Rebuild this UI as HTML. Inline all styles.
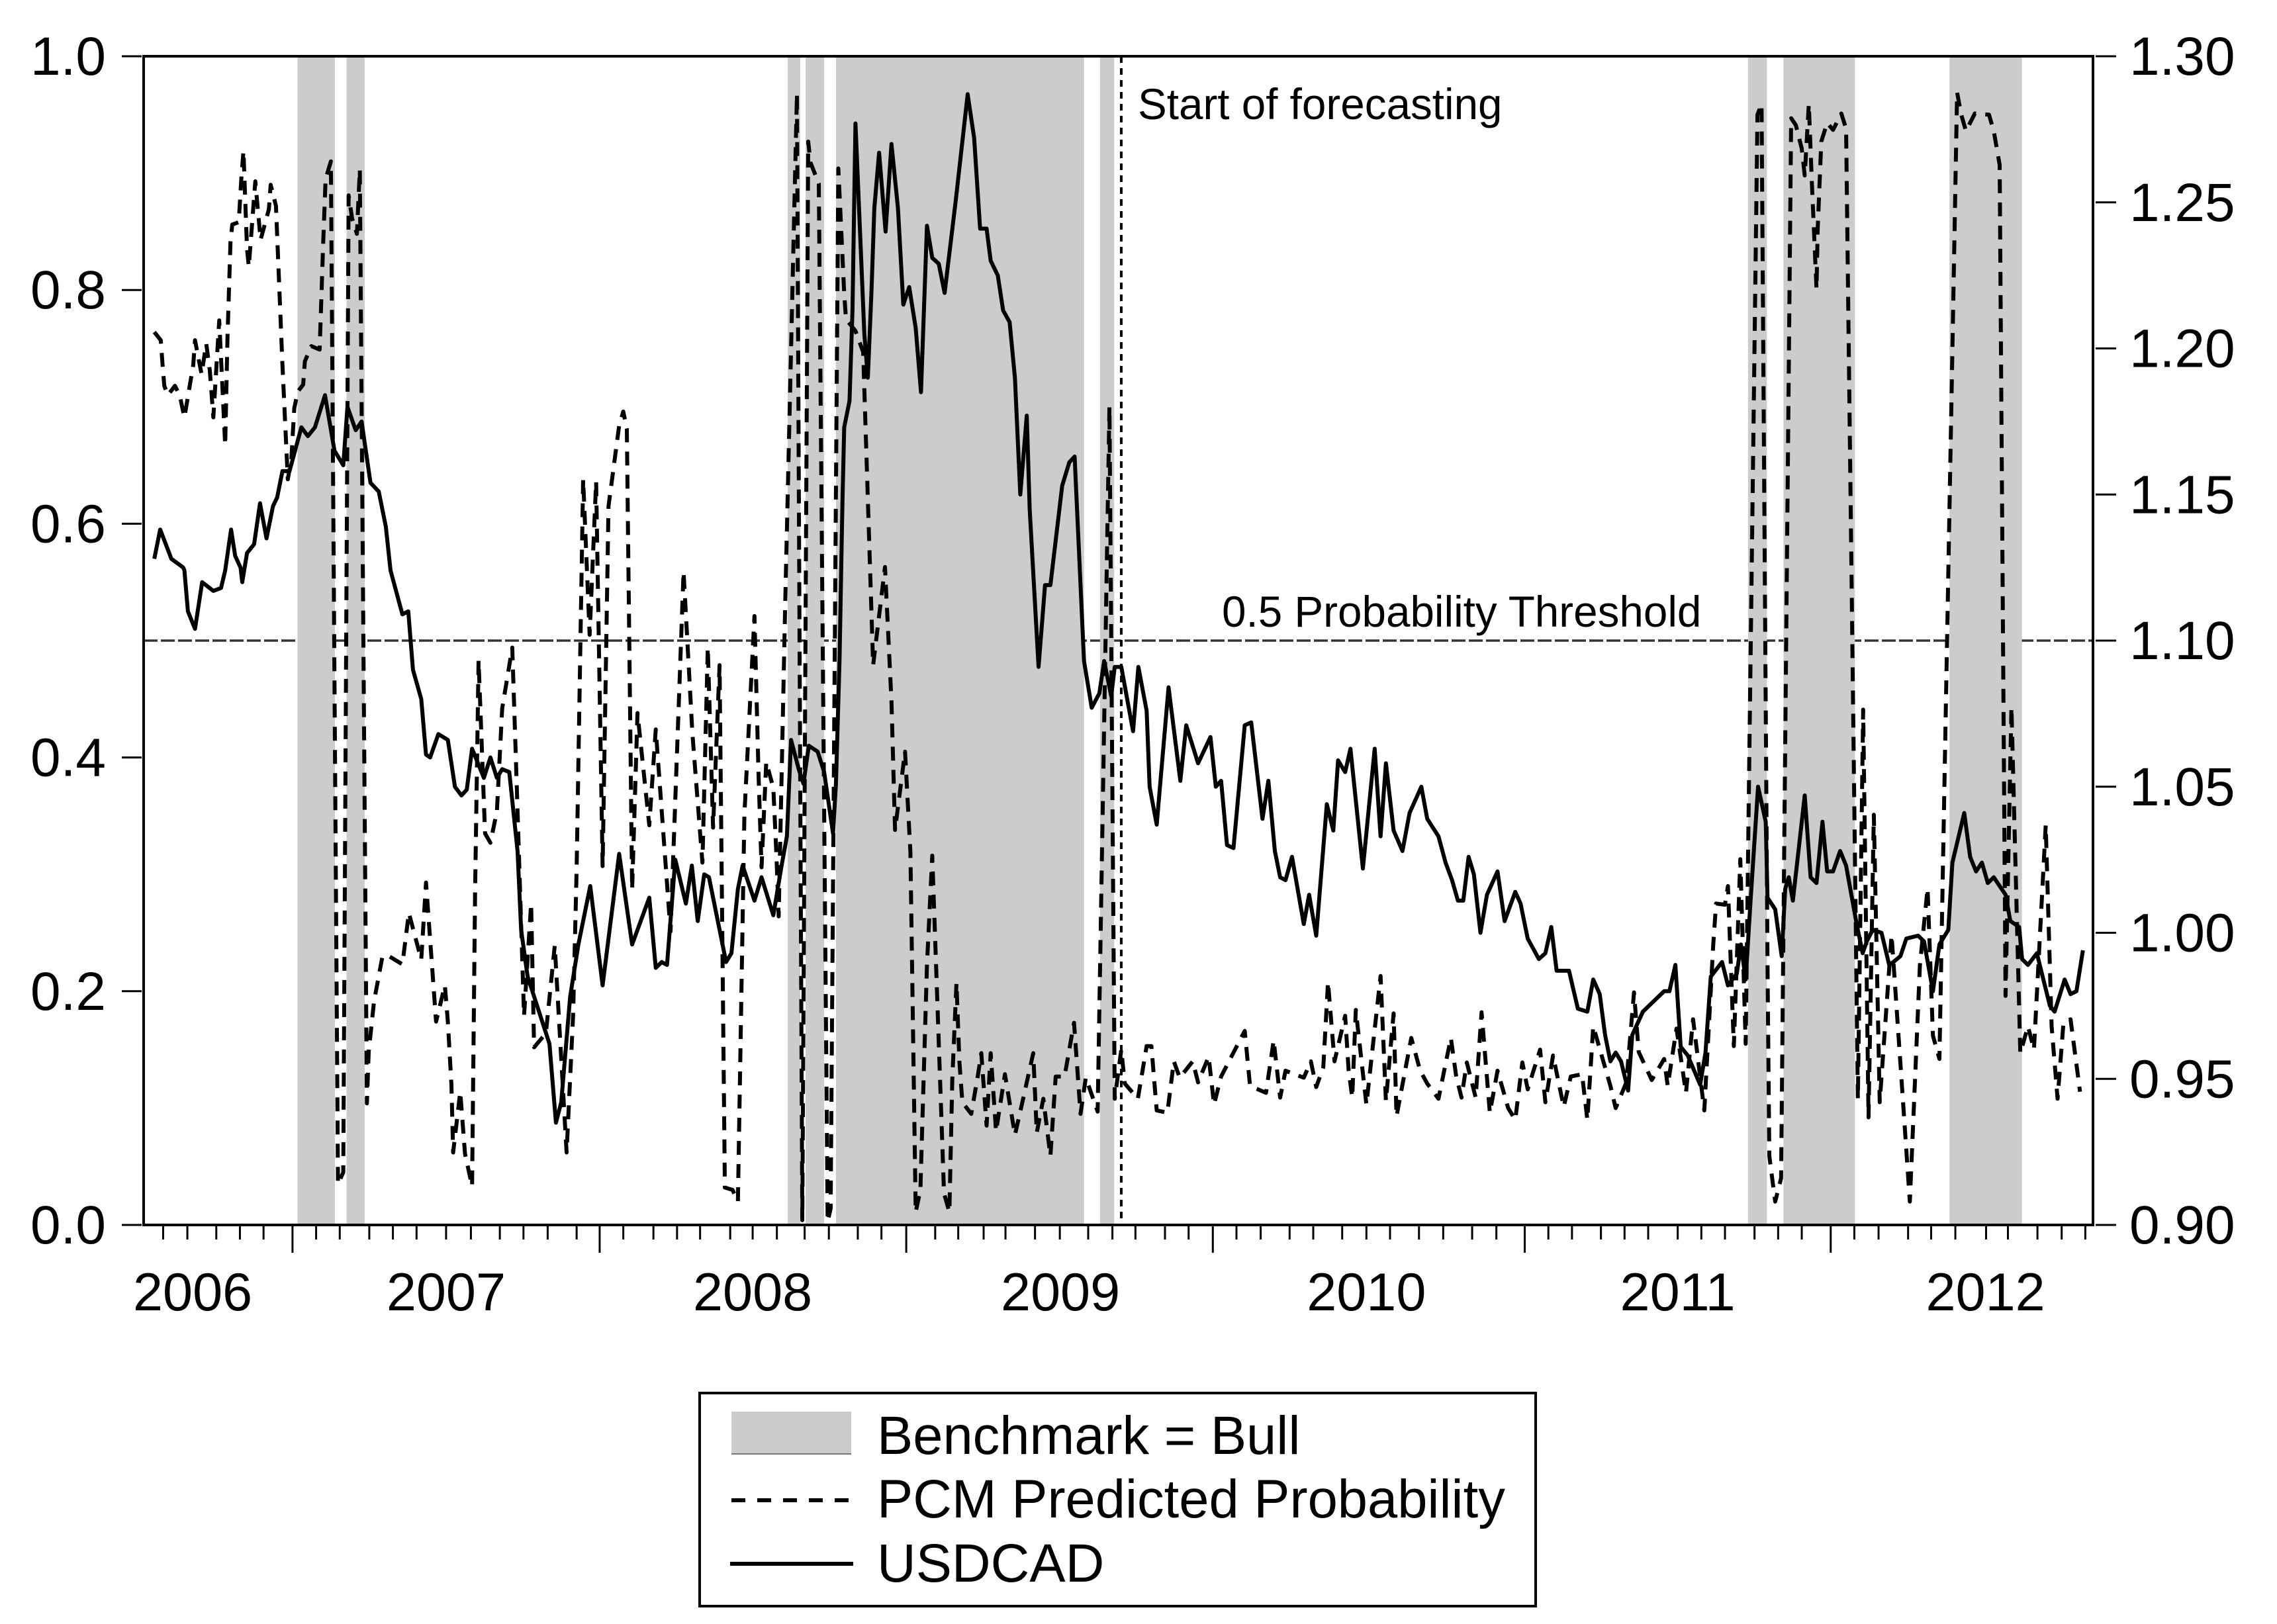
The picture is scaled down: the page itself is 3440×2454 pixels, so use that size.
<!DOCTYPE html>
<html lang="en">
<head>
<meta charset="utf-8">
<title>USDCAD and PCM Predicted Probability</title>
<style>
html,body{margin:0;padding:0;background:#fff;}
svg{display:block;font-family:"Liberation Sans",sans-serif;fill:#000;}
</style>
</head>
<body>
<svg id="chart" xmlns="http://www.w3.org/2000/svg" width="3440" height="2454" viewBox="0 0 3440 2454">
  <rect x="0" y="0" width="3440" height="2454" fill="#fff"/>
  <g id="threshold-layer"></g>
  <g id="band-layer"></g>
  <g id="series-layer"></g>
  <g id="axis-layer"></g>
  <g id="label-layer"></g>
  <g>
    <rect x="1057" y="2105" width="1263" height="322" fill="#fff" stroke="#000" stroke-width="4"/>
    <rect x="1105" y="2133" width="181" height="64" fill="#cccccc"/>
    <line x1="1105" y1="2197" x2="1286" y2="2197" stroke="#777" stroke-width="2"/>
    <text x="1325" y="2197" font-size="81.3">Benchmark = Bull</text>
    <line x1="1105" y1="2267" x2="1282" y2="2267" stroke="#000" stroke-width="6" stroke-dasharray="21 18"/>
    <text x="1325" y="2293" font-size="81.3">PCM Predicted Probability</text>
    <line x1="1103" y1="2363" x2="1289" y2="2363" stroke="#000" stroke-width="6"/>
    <text x="1325" y="2390" font-size="81.3">USDCAD</text>
  </g>
</svg>
<script>
// Chart data (time is in weeks since the left edge of the axis)
const weekDomain = [0, 330];
const probabilityDomain = [0, 1];
const usdcadDomain = [0.9, 1.3];
const leftTicks = ['0.0', '0.2', '0.4', '0.6', '0.8', '1.0'];
const rightTicks = ['0.90', '0.95', '1.00', '1.05', '1.10', '1.15', '1.20', '1.25', '1.30'];
const yearLabels = ['2006', '2007', '2008', '2009', '2010', '2011', '2012'];
const yearLabelWeeks = [8.3, 51.2, 103.1, 155.2, 207.0, 259.7, 311.8];
const yearTickWeeks = [25.2, 77.2, 129.1, 181, 233.8, 285.6];
const monthTickWeeks = [3.3,7.4,12.3,16.3,20.3,29.2,33.2,38.2,42.2,46.2,51.2,55.4,60.3,64.3,68.4,73.3,81.2,86.3,90.3,94.2,99.3,103.1,107.2,111.9,116,120.9,124.9,134,137.9,142.2,145.9,150.9,155.1,159.9,164,167.9,172.9,176.9,185,189.1,194,198,202.9,207,211,215.9,220,224.9,229,237.8,241.8,246.7,250.7,254.7,259.7,263.7,267.7,272.7,276.7,280.7,289.6,293.7,298.7,302.6,306.7,311.9,315.6,320.6,324.7,328.7];
const bullStart = [26.05, 34.35, 109.03, 112.06, 117.2, 161.9, 271.6, 277.6, 305.7];
const bullEnd = [32.38, 37.43, 111.16, 115.2, 159.2, 164.3, 274.8, 289.7, 317.97];
const forecastStartWeek = 165.5;
const thresholdValue = 0.5;

const usdcadWeeks = [1.8,2.8,4.7,6.7,6.9,7.5,8.7,9.9,11.8,13.1,13.8,14.8,15.5,16.4,16.7,17.5,18.7,19.7,20.8,21.9,22.6,23.5,24.7,26.7,27.8,29.0,30.7,32.3,33.8,34.5,35.9,36.9,38.4,39.8,41.0,41.8,43.8,44.8,45.6,47.0,47.8,48.5,49.9,51.5,52.7,53.8,54.7,55.6,57.0,57.6,58.7,59.8,60.7,61.9,63.3,63.9,65.0,68.7,69.8,70.7,72.2,73.6,75.6,77.7,80.5,82.7,85.6,86.7,87.7,88.6,90.0,91.8,92.8,93.8,94.9,95.7,98.6,99.5,100.6,101.4,103.4,104.6,106.6,108.0,108.9,109.6,110.9,111.7,112.6,114.1,115.2,116.7,117.2,117.8,118.3,118.6,119.5,120.0,120.5,122.0,122.6,123.2,123.7,124.5,125.6,126.6,127.7,128.6,129.6,130.7,131.6,132.6,133.5,134.6,135.6,137.5,139.5,140.6,141.6,142.7,143.4,144.6,145.5,146.6,147.5,148.4,149.5,150.0,151.5,152.6,153.5,155.5,156.7,157.6,159.2,160.5,161.8,162.6,163.8,164.4,165.5,167.5,168.4,169.8,170.3,171.5,173.5,175.5,176.5,178.5,180.6,181.5,182.4,183.4,184.5,186.4,187.5,189.4,190.4,191.5,192.4,193.3,194.4,196.4,197.3,198.5,200.3,201.4,202.2,203.4,204.3,206.4,208.4,209.4,210.3,211.6,213.1,214.3,216.3,217.3,219.2,220.4,221.5,222.5,223.4,224.3,225.2,226.3,227.4,229.2,230.4,232.2,233.1,234.3,236.2,237.3,238.3,239.2,241.3,242.8,244.4,245.4,246.5,247.4,248.3,249.2,250.1,251.3,252.0,253.8,257.4,258.3,259.3,260.2,261.4,263.5,264.4,265.3,267.2,268.2,269.7,270.4,271.2,272.0,273.3,274.6,274.9,276.2,277.3,277.9,278.5,279.2,281.2,282.2,283.2,284.2,285.0,286.0,287.2,288.2,290.0,291.0,291.7,292.7,294.2,295.5,296.2,297.4,298.4,300.4,301.4,302.9,304.0,305.5,306.2,308.2,309.2,310.2,311.2,312.2,313.2,315.2,316.0,317.5,318.0,319.0,320.5,322.7,323.5,325.2,326.2,327.2,328.3];
const usdcadValues = [1.128,1.138,1.128,1.125,1.124,1.110,1.104,1.120,1.117,1.118,1.124,1.138,1.129,1.125,1.120,1.130,1.133,1.147,1.135,1.146,1.149,1.158,1.158,1.173,1.170,1.173,1.184,1.165,1.160,1.180,1.172,1.175,1.154,1.151,1.139,1.124,1.109,1.110,1.090,1.080,1.061,1.060,1.068,1.066,1.050,1.047,1.049,1.063,1.056,1.053,1.060,1.053,1.056,1.055,1.028,1.001,0.985,0.962,0.935,0.942,0.978,0.996,1.016,0.982,1.027,0.996,1.012,0.988,0.990,0.989,1.025,1.010,1.023,1.004,1.020,1.019,0.990,0.993,1.015,1.023,1.011,1.019,1.006,1.023,1.033,1.066,1.056,1.051,1.064,1.062,1.055,1.034,1.051,1.093,1.147,1.173,1.182,1.213,1.277,1.205,1.190,1.219,1.248,1.267,1.240,1.270,1.248,1.215,1.221,1.207,1.185,1.242,1.231,1.229,1.219,1.251,1.287,1.272,1.241,1.241,1.230,1.225,1.213,1.209,1.190,1.150,1.177,1.145,1.091,1.119,1.119,1.153,1.161,1.163,1.093,1.077,1.082,1.093,1.081,1.091,1.091,1.069,1.091,1.076,1.050,1.037,1.084,1.052,1.071,1.058,1.067,1.050,1.052,1.030,1.029,1.071,1.072,1.039,1.052,1.028,1.019,1.018,1.026,1.003,1.013,0.999,1.044,1.035,1.059,1.055,1.063,1.022,1.063,1.033,1.058,1.035,1.028,1.041,1.050,1.039,1.033,1.024,1.018,1.011,1.011,1.026,1.020,1.000,1.013,1.021,1.004,1.014,1.010,0.998,0.991,0.993,1.002,0.987,0.987,0.974,0.973,0.984,0.979,0.965,0.956,0.959,0.956,0.946,0.965,0.973,0.980,0.980,0.989,0.961,0.958,0.948,0.959,0.985,0.990,0.982,0.986,0.996,0.984,1.010,1.050,1.038,1.012,1.008,0.992,1.015,1.019,1.011,1.047,1.019,1.017,1.038,1.021,1.021,1.028,1.023,1.003,0.993,0.997,1.001,1.000,0.989,0.990,0.992,0.998,0.999,0.997,0.980,0.996,1.001,1.024,1.041,1.026,1.021,1.024,1.017,1.019,1.013,1.004,1.002,0.991,0.989,0.993,0.975,0.973,0.984,0.979,0.980,0.994];

const probabilityWeeks = [1.8,2.9,3.2,3.5,4.1,5.3,6.1,6.9,8.4,8.7,9.8,10.6,11.2,11.8,12.8,13.8,14.2,14.7,15.0,16.1,16.5,16.9,17.5,17.8,18.9,19.8,21.2,21.5,22.4,23.5,24.4,25.0,25.5,26.1,27.0,27.3,28.4,29.8,30.4,30.8,31.7,32.9,33.8,34.7,35.3,36.1,36.6,37.8,38.1,39.0,40.4,41.2,43.8,44.9,47.0,47.8,49.5,51.0,51.5,52.1,52.4,53.6,54.4,55.6,56.1,56.7,57.8,58.7,59.8,60.7,62.4,63.0,64.4,65.6,66.1,68.1,69.6,71.6,72.7,73.3,74.4,75.5,76.6,77.7,78.7,80.5,81.2,81.8,82.7,83.6,85.6,86.7,89.2,91.4,92.9,94.6,95.5,96.4,97.5,98.4,99.7,100.6,101.7,103.4,104.1,104.6,105.4,106.6,107.1,107.5,108.6,110.6,111.5,112.5,112.9,114.3,115.8,116.3,117.6,118.6,118.9,120.5,121.8,123.5,125.5,126.6,127.2,128.9,129.8,130.7,131.5,132.6,133.5,135.5,136.4,136.9,137.6,138.1,138.6,140.1,141.2,141.8,142.7,143.4,144.3,145.8,147.5,148.4,150.6,151.2,152.3,153.5,154.4,155.9,157.5,158.6,159.5,161.5,163.5,164.4,165.5,166.1,168.3,169.8,170.6,171.5,173.3,174.4,175.4,177.6,178.5,180.3,181.2,182.4,186.4,187.3,190.0,191.3,192.4,193.3,196.4,197.6,198.5,199.7,200.5,201.6,203.4,204.0,204.6,205.2,207.0,209.4,210.3,211.6,212.1,214.6,216.1,217.3,219.2,221.3,222.2,223.1,224.0,225.5,226.5,227.9,229.2,231.0,232.2,233.4,234.3,236.4,237.3,238.6,240.4,241.6,243.5,244.4,245.4,248.3,249.2,251.0,252.3,253.1,255.3,257.4,258.0,259.5,261.1,262.3,264.2,265.7,266.2,267.7,268.2,269.2,270.3,271.2,273.2,273.9,274.9,275.2,276.2,277.2,278.9,279.7,280.7,281.2,281.9,282.4,283.2,283.4,284.0,285.0,286.0,287.4,288.2,290.2,291.1,292.0,292.9,293.9,295.9,297.4,299.0,300.7,302.0,302.9,304.0,307.0,307.7,308.5,310.0,312.4,313.2,314.2,315.2,316.2,317.7,319.0,320.0,322.0,323.0,324.0,325.0,326.2,327.8];
const probabilityValues = [.764,.757,.736,.718,.710,.718,.710,.691,.736,.757,.728,.754,.731,.691,.774,.667,.760,.841,.856,.858,.893,.919,.835,.820,.893,.843,.869,.890,.872,.736,.638,.655,.699,.713,.719,.739,.752,.749,.841,.895,.910,.035,.045,.881,.861,.848,.903,.104,.148,.191,.229,.231,.223,.267,.227,.293,.174,.205,.174,.120,.062,.114,.061,.033,.283,.483,.335,.327,.354,.442,.494,.402,.179,.275,.152,.164,.239,.062,.179,.303,.638,.505,.636,.307,.615,.684,.696,.681,.287,.438,.342,.424,.251,.559,.420,.310,.494,.340,.479,.032,.030,.020,.351,.521,.385,.306,.396,.374,.319,.264,.530,.968,.004,.927,.909,.891,.003,.014,.904,.797,.775,.765,.747,.479,.563,.448,.338,.405,.319,.011,.030,.222,.316,.027,.011,.125,.207,.140,.105,.095,.127,.147,.085,.147,.080,.129,.077,.097,.147,.079,.108,.059,.127,.127,.173,.095,.126,.097,.700,.108,.150,.121,.108,.153,.153,.098,.096,.140,.126,.140,.122,.144,.103,.127,.166,.119,.113,.158,.109,.132,.126,.140,.118,.135,.208,.140,.179,.132,.109,.184,.103,.213,.106,.181,.093,.160,.132,.121,.108,.160,.127,.109,.139,.109,.182,.096,.132,.100,.090,.139,.116,.150,.105,.145,.101,.127,.129,.090,.170,.119,.100,.122,.199,.148,.124,.142,.119,.168,.113,.176,.098,.239,.275,.274,.290,.153,.313,.155,.950,.959,.222,.059,.020,.040,.947,.941,.921,.898,.959,.893,.801,.852,.927,.943,.937,.951,.938,.108,.441,.092,.351,.105,.248,.138,.020,.222,.288,.162,.142,.969,.950,.936,.951,.950,.936,.907,.196,.443,.147,.170,.150,.342,.170,.108,.173,.176,.114];

// Plot frame
const plotLeft = 217, plotRight = 3162, plotTop = 85, plotBottom = 1851;
const xScale = w => plotLeft + (w - weekDomain[0]) / (weekDomain[1] - weekDomain[0]) * (plotRight - plotLeft);
const yLeft = p => plotBottom - (p - probabilityDomain[0]) / (probabilityDomain[1] - probabilityDomain[0]) * (plotBottom - plotTop);
const yRight = v => plotBottom - (v - usdcadDomain[0]) / (usdcadDomain[1] - usdcadDomain[0]) * (plotBottom - plotTop);
const NS = 'http://www.w3.org/2000/svg';
function make(tag, parent, props, text) {
  const el = document.createElementNS(NS, tag);
  for (const k in props) el.setAttribute(k, props[k]);
  if (text !== undefined) el.textContent = text;
  document.getElementById(parent).appendChild(el);
  return el;
}
function pointsOf(weeks, values, yFn) {
  return weeks.map((w, i) => xScale(w).toFixed(1) + ',' + yFn(values[i]).toFixed(1)).join(' ');
}

// Threshold (drawn beneath the shaded bands)
const thresholdLine = make('line', 'threshold-layer', {x1: plotLeft, x2: plotRight, y1: yLeft(thresholdValue), y2: yLeft(thresholdValue), stroke: '#333', 'stroke-width': 3.5, 'stroke-dasharray': '21 5'});



// Shaded bull regimes
bullStart.forEach((s, i) => {
  const band = make('rect', 'band-layer', {x: xScale(s), width: xScale(bullEnd[i]) - xScale(s), y: plotTop, height: plotBottom - plotTop, fill: '#cccccc'});
  
  
});

// Forecast-start marker
const forecastLine = make('line', 'series-layer', {x1: xScale(forecastStartWeek), x2: xScale(forecastStartWeek), y1: plotTop, y2: plotBottom, stroke: '#000', 'stroke-width': 4, 'stroke-dasharray': '10 8'});



// Series
const probabilityLine = make('polyline', 'series-layer', {points: pointsOf(probabilityWeeks, probabilityValues, yLeft), fill: 'none', stroke: '#000', 'stroke-width': 6, 'stroke-dasharray': '21 14', 'stroke-linejoin': 'round'});


const usdcadLine = make('polyline', 'series-layer', {points: pointsOf(usdcadWeeks, usdcadValues, yRight), fill: 'none', stroke: '#000', 'stroke-width': 6, 'stroke-linejoin': 'round'});



// Axes
const frame = make('rect', 'axis-layer', {x: plotLeft, y: plotTop, width: plotRight - plotLeft, height: plotBottom - plotTop, fill: 'none', stroke: '#000', 'stroke-width': 4});



leftTicks.forEach(t => {
  const y = yLeft(parseFloat(t));
  const tick = make('line', 'axis-layer', {x1: plotLeft - 33, x2: plotLeft - 3, y1: y, y2: y, stroke: '#000', 'stroke-width': 3});
  
  
  const label = make('text', 'label-layer', {x: 160, y: y + 28, 'text-anchor': 'end', 'font-size': 82}, t);
  
  
});
rightTicks.forEach(t => {
  const y = yRight(parseFloat(t));
  const tick = make('line', 'axis-layer', {x1: plotRight + 4, x2: plotRight + 35, y1: y, y2: y, stroke: '#000', 'stroke-width': 3});
  
  
  const label = make('text', 'label-layer', {x: 3217, y: y + 28, 'font-size': 82}, t);
  
  
});
monthTickWeeks.forEach(w => {
  const tick = make('line', 'axis-layer', {x1: xScale(w), x2: xScale(w), y1: plotBottom + 2, y2: plotBottom + 22, stroke: '#000', 'stroke-width': 3});
  
  
});
yearTickWeeks.forEach(w => {
  const tick = make('line', 'axis-layer', {x1: xScale(w), x2: xScale(w), y1: plotBottom + 2, y2: plotBottom + 42, stroke: '#000', 'stroke-width': 3});
  
  
});
yearLabels.forEach((t, i) => {
  const label = make('text', 'label-layer', {x: xScale(yearLabelWeeks[i]), y: 1980, 'text-anchor': 'middle', 'font-size': 81}, t);
  
  
});

// Annotations
const forecastText = make('text', 'label-layer', {x: 1719, y: 180, 'font-size': 65.6}, 'Start of forecasting');


const thresholdText = make('text', 'label-layer', {x: 1846, y: 947, 'font-size': 65.6}, '0.5 Probability Threshold');


</script>
</body>
</html>
